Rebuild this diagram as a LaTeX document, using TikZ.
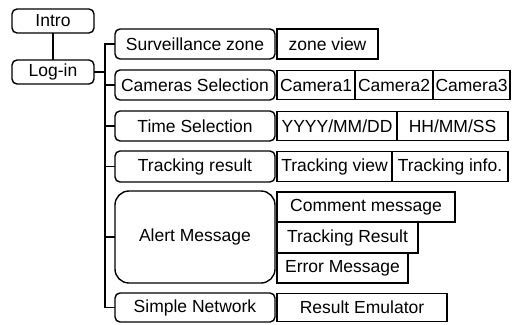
\documentclass[tikz,border=0pt]{standalone}
\usepackage{fontspec}
\setmainfont{Liberation Sans}
\begin{document}
\begin{tikzpicture}[x=1pt,y=-1pt,
  every node/.style={inner sep=0pt, outer sep=0pt, font=\fontsize{17.5}{20}\selectfont},
  lbox/.style={draw, line width=1.4pt, rounded corners=5pt, minimum width=160pt, minimum height=30pt},
  rbox/.style={draw, line width=1.4pt, minimum height=30pt},
  tbox/.style={draw, line width=1.4pt, rounded corners=5pt, minimum width=82pt, minimum height=24pt},
  link/.style={line width=1.4pt}]
\useasboundingbox (0,0) rectangle (518,324);
% top-level
\node[tbox] (intro) at (53,21) {Intro};
\node[tbox] (login) at (53,72) {Log-in};
% left column
\node[lbox] (surv) at (195,44) {Surveillance zone};
\node[lbox] (cams) at (195,85) {Cameras Selection};
\node[lbox] (time) at (195,126) {Time Selection};
\node[lbox, minimum height=31pt] (track) at (195,166.5) {Tracking result};
\node[lbox, rounded corners=14pt, minimum height=92pt] (alert) at (195,237) {Alert Message};
\node[lbox, minimum height=29pt] (simple) at (195,307.5) {Simple Network};
% right boxes
\node[rbox, minimum width=101pt] (zone) at (327.5,44) {zone view};
\node[rbox, minimum width=78pt, minimum height=29pt] (cam1) at (316,85) {Camera1};
\node[rbox, minimum width=78pt, minimum height=29pt] (cam2) at (394,85) {Camera2};
\node[rbox, minimum width=77pt, minimum height=29pt] (cam3) at (471.5,85) {Camera3};
\node[rbox, minimum width=120pt, minimum height=29pt] (ymd) at (337,126) {YYYY/MM/DD};
\node[rbox, minimum width=111pt, minimum height=29pt] (hms) at (452.5,126) {HH/MM/SS};
\node[rbox, minimum width=115pt] (tview) at (334.5,166.5) {Tracking view};
\node[rbox, minimum width=116pt] (tinfo) at (450,166.5) {Tracking info.};
\node[rbox, minimum width=178pt] (comment) at (366,207) {Comment message};
\node[rbox, minimum width=141pt, minimum height=31pt] (tres) at (347.5,237.5) {Tracking Result};
\node[rbox, minimum width=131pt] (err) at (342.5,268) {Error Message};
\node[rbox, minimum width=170pt, minimum height=28pt] (emul) at (362,307.5) {Result Emulator};
% connectors
\coordinate (bt) at (105,44);
\coordinate (bb) at (105,307.5);
\draw[link] (intro) -- (login);
\draw[link] (surv.west) -- (bt) -- (bb) -- (simple.west);
\draw[link] (login.east) -- (login.east -| bt);
\draw[link] (cams.west) -- (cams.west -| bt);
\draw[link] (time.west) -- (time.west -| bt);
\draw[link] (track.west) -- (track.west -| bt);
\draw[link] (alert.west) -- (alert.west -| bt);
\end{tikzpicture}
\end{document}
